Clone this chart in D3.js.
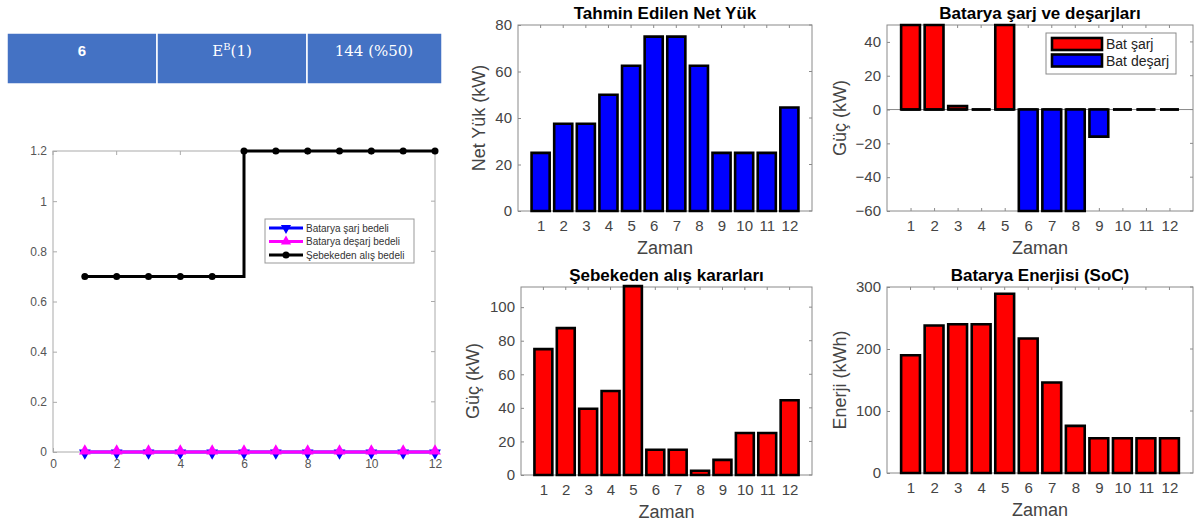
<!DOCTYPE html>
<html>
<head>
<meta charset="utf-8">
<script src="https://cdn.jsdelivr.net/npm/d3@7"></script>
<style>
  body { margin: 0; background: #fff; }
  text { font-family: "Liberation Sans", Arial, sans-serif; }
</style>
</head>
<body>
<div id="main"></div>
<script>
// data
var zaman = [1, 2, 3, 4, 5, 6, 7, 8, 9, 10, 11, 12];
var netYuk = [25, 37.5, 37.5, 50, 62.5, 75, 75, 62.5, 25, 25, 25, 44.5];
var batSarj = [50, 50, 2, 0, 50, 0, 0, 0, 0, 0, 0, 0];
var batDesarj = [0, 0, 0, 0, 0, -60, -60, -60, -16, 0, 0, 0];
var sebekeAlis = [75, 87.5, 39.5, 50, 112.5, 15, 15, 2.5, 9, 25, 25, 44.5];
var soc = [190, 238, 240, 240, 289, 217, 146, 76, 56, 56, 56, 56];

var sarjBedeli = [0, 0, 0, 0, 0, 0, 0, 0, 0, 0, 0, 0];
var desarjBedeli = [0, 0, 0, 0, 0, 0, 0, 0, 0, 0, 0, 0];
var sebekeBedeli = [0.7, 0.7, 0.7, 0.7, 0.7, 1.2, 1.2, 1.2, 1.2, 1.2, 1.2, 1.2];

var tableCells = ["6", "E", "144 (%50)"];
var leftXTicks = [0, 2, 4, 6, 8, 10, 12];
var leftYTicks = [0, 0.2, 0.4, 0.6, 0.8, 1, 1.2];

var W = 1197, H = 528;
var svg = d3.select("#main").append("svg")
    .attr("width", W).attr("height", H);
svg.append("rect").attr("width", W).attr("height", H).attr("fill", "#fff");

// ---- table strip on top left
var colEdges = [7, 157, 307, 442];
var tbl = svg.append("g");
tableCells.forEach(function (t, i) {
    tbl.append("rect")
        .attr("x", colEdges[i]).attr("y", 33)
        .attr("width", colEdges[i + 1] - colEdges[i]).attr("height", 51)
        .attr("fill", "#4472C4").attr("stroke", "#fff").attr("stroke-width", 1.5);
});
tbl.append("text").attr("x", 82).attr("y", 56).attr("text-anchor", "middle")
    .attr("fill", "#fff").style("font-weight", "bold").style("font-size", "15px").text(tableCells[0]);
var eb = tbl.append("text").attr("x", 232).attr("y", 56).attr("text-anchor", "middle")
    .attr("fill", "#fff").style("font-family", "'DejaVu Serif', serif").style("font-size", "15px");
eb.append("tspan").text(tableCells[1]);
eb.append("tspan").attr("dy", -6).style("font-size", "10px").text("B");
eb.append("tspan").attr("dy", 6).text("(1)");
tbl.append("text").attr("x", 374).attr("y", 56).attr("text-anchor", "middle")
    .attr("fill", "#fff").style("font-family", "'DejaVu Serif', serif").style("font-size", "15px").text(tableCells[2]);

// ---- left price chart
var lx = d3.scaleLinear().domain([0, 12]).range([53, 435]);
var ly = d3.scaleLinear().domain([0, 1.2]).range([452, 151]);
var lg = svg.append("g");
lg.append("rect").attr("x", 53).attr("y", 151).attr("width", 382).attr("height", 301)
    .attr("fill", "#fff").attr("stroke", "#aaa").attr("stroke-width", 1);

var lxAxis = lg.append("g").attr("transform", "translate(0,452)")
    .call(d3.axisBottom(lx).tickValues(leftXTicks).tickSizeInner(-4).tickSizeOuter(0).tickPadding(7));
var lyAxis = lg.append("g").attr("transform", "translate(53,0)")
    .call(d3.axisLeft(ly).tickValues(leftYTicks).tickFormat(function (d) { return String(d); })
        .tickSizeInner(-4).tickSizeOuter(0).tickPadding(6));
[lxAxis, lyAxis].forEach(function (a) {
    a.select(".domain").remove();
    a.selectAll(".tick line").attr("stroke", "#aaa");
    a.selectAll(".tick text").attr("fill", "#555").style("font-size", "12px")
        .style("font-family", "'Liberation Sans', Arial, sans-serif");
});
// mirrored ticks
leftXTicks.forEach(function (t) {
    lg.append("line").attr("x1", lx(t)).attr("x2", lx(t)).attr("y1", 151).attr("y2", 155).attr("stroke", "#aaa");
});
leftYTicks.forEach(function (t) {
    lg.append("line").attr("x1", 431).attr("x2", 435).attr("y1", ly(t)).attr("y2", ly(t)).attr("stroke", "#aaa");
});

var stepLine = d3.line().x(function (d, i) { return lx(zaman[i]); })
    .y(function (d) { return ly(d); }).curve(d3.curveStepAfter);
var plainLine = d3.line().x(function (d, i) { return lx(zaman[i]); })
    .y(function (d) { return ly(d); });

lg.append("path").attr("d", plainLine(sarjBedeli)).attr("fill", "none")
    .attr("stroke", "#0000ff").attr("stroke-width", 3);
lg.selectAll(".mdown").data(sarjBedeli).enter().append("path")
    .attr("d", d3.symbol(d3.symbolTriangle, 60)())
    .attr("transform", function (d, i) { return "translate(" + lx(zaman[i]) + "," + (ly(d) + 1) + ") rotate(180)"; })
    .attr("fill", "#0000ff");
lg.append("path").attr("d", plainLine(desarjBedeli)).attr("fill", "none")
    .attr("stroke", "#ff00ff").attr("stroke-width", 3);
lg.selectAll(".mup").data(desarjBedeli).enter().append("path")
    .attr("d", d3.symbol(d3.symbolTriangle, 60)())
    .attr("transform", function (d, i) { return "translate(" + lx(zaman[i]) + "," + (ly(d) - 1) + ")"; })
    .attr("fill", "#ff00ff");
lg.append("path").attr("d", stepLine(sebekeBedeli)).attr("fill", "none")
    .attr("stroke", "#000").attr("stroke-width", 3);
lg.selectAll(".mdot").data(sebekeBedeli).enter().append("circle")
    .attr("cx", function (d, i) { return lx(zaman[i]); })
    .attr("cy", function (d) { return ly(d); })
    .attr("r", 3.5).attr("fill", "#000");

// legend
var leg = lg.append("g").attr("transform", "translate(265,219)");
leg.append("rect").attr("width", 149).attr("height", 44).attr("fill", "#fff").attr("stroke", "#999");
var legItems = [
    { name: "Batarya şarj bedeli", color: "#0000ff", sym: "down" },
    { name: "Batarya deşarj bedeli", color: "#ff00ff", sym: "up" },
    { name: "Şebekeden alış bedeli", color: "#000", sym: "dot" }
];
legItems.forEach(function (it, i) {
    var yy = 9 + i * 13.5;
    leg.append("line").attr("x1", 4).attr("x2", 38).attr("y1", yy).attr("y2", yy)
        .attr("stroke", it.color).attr("stroke-width", 3);
    if (it.sym === "dot") {
        leg.append("circle").attr("cx", 21).attr("cy", yy).attr("r", 3.5).attr("fill", it.color);
    } else {
        leg.append("path").attr("d", d3.symbol(d3.symbolTriangle, 45)())
            .attr("transform", "translate(21," + yy + ")" + (it.sym === "down" ? " rotate(180)" : ""))
            .attr("fill", it.color);
    }
    leg.append("text").attr("x", 41).attr("y", yy + 3.5).attr("fill", "#333")
        .style("font-size", "10px").text(it.name);
});

// ---- bar panels
function barPanel(cfg) {
    var g = svg.append("g");
    var x = d3.scaleLinear().domain([0, 13]).range([cfg.x0, cfg.x1]);
    var y = d3.scaleLinear().domain([cfg.ymin, cfg.ymax]).range([cfg.y1, cfg.y0]);
    var bw = 0.8 * (x(1) - x(0));

    g.append("rect").attr("x", cfg.x0).attr("y", cfg.y0)
        .attr("width", cfg.x1 - cfg.x0).attr("height", cfg.y1 - cfg.y0)
        .attr("fill", "#fff").attr("stroke", "#8a8a8a").attr("stroke-width", 1);

    var xa = g.append("g").attr("transform", "translate(0," + cfg.y1 + ")")
        .call(d3.axisBottom(x).tickValues(zaman).tickSizeInner(-3).tickSizeOuter(0).tickPadding(9));
    var ya = g.append("g").attr("transform", "translate(" + cfg.x0 + ",0)")
        .call(d3.axisLeft(y).tickValues(cfg.yticks).tickSizeInner(-3).tickSizeOuter(0).tickPadding(6));
    [xa, ya].forEach(function (a) {
        a.select(".domain").remove();
        a.selectAll(".tick line").attr("stroke", "#8a8a8a");
        a.selectAll(".tick text").attr("fill", "#444").style("font-size", "15px")
            .style("font-family", "'Liberation Sans', Arial, sans-serif");
    });
    zaman.forEach(function (t) {
        g.append("line").attr("x1", x(t)).attr("x2", x(t)).attr("y1", cfg.y0).attr("y2", cfg.y0 + 3).attr("stroke", "#8a8a8a");
    });
    cfg.yticks.forEach(function (t) {
        g.append("line").attr("x1", cfg.x1 - 3).attr("x2", cfg.x1).attr("y1", y(t)).attr("y2", y(t)).attr("stroke", "#8a8a8a");
    });
    if (cfg.ymin < 0) {
        g.append("line").attr("x1", cfg.x0).attr("x2", cfg.x1).attr("y1", y(0)).attr("y2", y(0))
            .attr("stroke", "#8a8a8a");
    }

    cfg.series.forEach(function (s) {
        g.selectAll(null).data(s.values).enter().append("path")
            .attr("d", function (d, i) {
                var top = y(Math.max(d, 0)), bot = y(Math.min(d, 0));
                var left = x(zaman[i]) - bw / 2;
                return "M" + left + "," + top + "h" + bw + "V" + bot + "h" + (-bw) + "Z";
            })
            .attr("fill", s.color).attr("stroke", "#000").attr("stroke-width", 2.6);
    });

    g.append("text").attr("x", (cfg.x0 + cfg.x1) / 2).attr("y", cfg.y0 - 6)
        .attr("text-anchor", "middle").attr("fill", "#000")
        .style("font-size", "17px").style("font-weight", "bold").text(cfg.title);
    g.append("text").attr("x", (cfg.x0 + cfg.x1) / 2).attr("y", cfg.y1 + 43)
        .attr("text-anchor", "middle").attr("fill", "#444")
        .style("font-size", "18px").text("Zaman");
    g.append("text").attr("transform", "translate(" + cfg.ylx + "," + ((cfg.y0 + cfg.y1) / 2) + ") rotate(-90)")
        .attr("text-anchor", "middle").attr("fill", "#444")
        .style("font-size", "18px").text(cfg.ylabel);

    if (cfg.legend) {
        var lgd = g.append("g").attr("transform", "translate(" + cfg.legend.x + "," + cfg.legend.y + ")");
        lgd.append("rect").attr("width", 130).attr("height", 41).attr("fill", "#fff").attr("stroke", "#8a8a8a");
        cfg.series.forEach(function (s, i) {
            lgd.append("rect").attr("x", 6).attr("y", 5 + i * 16.5).attr("width", 50).attr("height", 12)
                .attr("fill", s.color).attr("stroke", "#000").attr("stroke-width", 2.6);
            lgd.append("text").attr("x", 60).attr("y", 16 + i * 16.5).attr("fill", "#222")
                .style("font-size", "14px").text(s.name);
        });
    }
}

barPanel({
    x0: 518, x1: 812, y0: 25, y1: 211, ymin: 0, ymax: 80, yticks: [0, 20, 40, 60, 80],
    title: "Tahmin Edilen Net Yük", ylabel: "Net Yük (kW)", ylx: 485,
    series: [{ values: netYuk, color: "#0000ff" }]
});
barPanel({
    x0: 887, x1: 1193, y0: 25, y1: 211, ymin: -60, ymax: 50, yticks: [-60, -40, -20, 0, 20, 40],
    title: "Batarya şarj ve deşarjları", ylabel: "Güç (kW)", ylx: 846,
    series: [{ values: batSarj, color: "#ff0000", name: "Bat şarj" },
             { values: batDesarj, color: "#0000ff", name: "Bat deşarj" }],
    legend: { x: 1046, y: 33 }
});
barPanel({
    x0: 521, x1: 812, y0: 287, y1: 475, ymin: 0, ymax: 112, yticks: [0, 20, 40, 60, 80, 100],
    title: "Şebekeden alış kararları", ylabel: "Güç (kW)", ylx: 479,
    series: [{ values: sebekeAlis, color: "#ff0000" }]
});
barPanel({
    x0: 887, x1: 1193, y0: 287, y1: 473, ymin: 0, ymax: 300, yticks: [0, 100, 200, 300],
    title: "Batarya Enerjisi (SoC)", ylabel: "Enerji (kWh)", ylx: 846,
    series: [{ values: soc, color: "#ff0000" }]
});
</script>
</body>
</html>
